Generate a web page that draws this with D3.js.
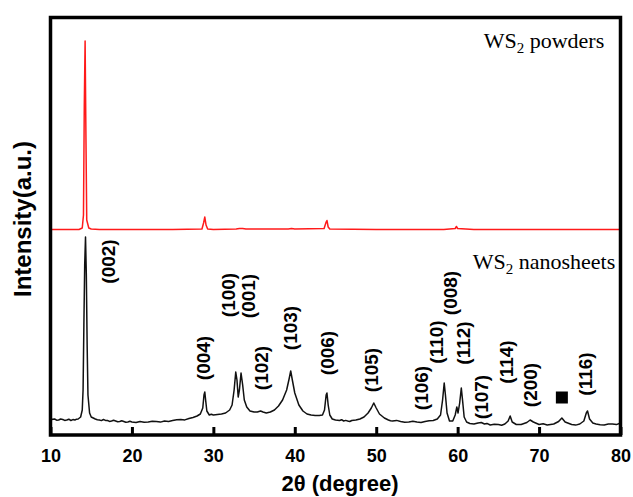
<!DOCTYPE html>
<html>
<head>
<meta charset="utf-8">
<script src="https://cdn.jsdelivr.net/npm/d3@7"></script>
<style>
  html, body { margin: 0; padding: 0; background: #fff; }
  svg { display: block; }
</style>
</head>
<body>
<svg id="chart" width="633" height="497"></svg>
<script>
// ---------------- DATA ----------------
// WS2 nanosheets pattern: [2θ (degree), intensity (a.u.)]
const nanoPattern = [
  [10.0,15],[10.25,15.8],[10.5,16],[10.75,14.8],[11.0,15],[11.25,16],[11.5,15.5],[11.75,14.6],[12.0,15],[12.25,15.8],
  [12.5,14.5],[12.75,15.4],[13.0,15],[13.2,15.8],[13.4,16],[13.7,18],[13.9,25],[14.0,45],[14.1,110],[14.2,170],
  [14.3,198],[14.4,160],[14.5,90],[14.6,40],[14.8,22],[15.0,18],[15.25,17],[15.5,16],[15.75,15.2],[16.0,15],
  [16.25,14.4],[16.5,15.5],[16.75,14.6],[17.0,14.5],[17.25,13.6],[17.5,14],[17.75,14.7],[18.0,14],[18.25,13.2],[18.5,13.5],
  [18.75,14.2],[19.0,13.5],[19.25,12.7],[19.5,13],[19.75,13.7],[20.0,13],[20.5,12.5],[21.0,13.5],[21.5,12.8],[22.0,13],
  [22.5,13.8],[23.0,13.5],[23.5,12.9],[24.0,14],[24.5,13.6],[25.0,14.5],[25.5,15.3],[26.0,15.5],[26.5,15.1],[27.0,16.5],
  [27.5,17.5],[28.0,19],[28.4,21],[28.7,27],[28.85,40],[28.95,43],[29.05,35],[29.2,24],[29.5,20],[29.75,20.8],
  [30.0,20],[30.5,20.5],[31.0,21],[31.5,22],[32.0,25],[32.3,30],[32.55,45],[32.75,63],[32.9,55],[33.05,38],
  [33.2,45],[33.4,62],[33.6,50],[33.8,35],[34.1,28],[34.5,24],[35.0,23],[35.4,23],[35.8,24],[36.1,23],
  [36.5,22],[37.0,23],[37.5,25],[38.0,29],[38.5,35],[39.0,45],[39.3,56],[39.5,64],[39.7,55],[40.0,42],
  [40.5,30],[41.0,24],[41.5,21],[42.0,20],[42.5,19.5],[43.0,19.5],[43.4,20],[43.65,25],[43.85,40],[43.95,42],
  [44.1,30],[44.3,20],[44.6,16],[45.0,15],[45.5,14.5],[45.75,15.3],[46.0,14],[46.25,14.6],[46.5,14],[46.75,13.5],
  [47.0,14.5],[47.5,15],[48.0,16],[48.5,18],[49.0,22],[49.4,27],[49.7,32],[50.0,27],[50.4,21],[51.0,17],
  [51.5,15],[51.75,14.2],[52.0,14],[52.5,14.6],[53.0,13.5],[53.5,12.8],[54.0,13],[54.5,13.7],[55.0,13],[55.5,12.6],
  [56.0,13.5],[56.5,14.2],[57.0,14.5],[57.5,16],[57.9,20],[58.15,35],[58.35,52],[58.5,40],[58.7,22],[59.0,14],
  [59.4,14],[59.7,20],[59.9,28],[60.05,22],[60.25,32],[60.45,47],[60.6,35],[60.8,18],[61.1,13],[61.5,11.5],
  [62.0,11],[62.5,12],[62.9,12.5],[63.3,11],[63.6,11.6],[64.0,10],[64.5,10.8],[65.0,10.5],[65.4,9.8],[65.8,11],
  [66.2,14],[66.45,19],[66.7,13],[67.2,10.5],[67.8,10.5],[68.5,12.5],[68.9,15],[69.3,13],[70.0,10.5],[70.5,11.2],
  [71.0,10],[71.4,10.6],[71.8,11],[72.4,13.5],[72.8,17],[73.2,13],[74.0,10.5],[74.5,9.9],[75.0,11],[75.5,14],
  [75.8,22],[75.95,24],[76.2,16],[76.6,12],[77.0,11],[77.5,10.3],[78.0,10],[78.5,11],[79.0,11],[79.5,10.4],[80.0,12]
];

// WS2 powders pattern (offset upward): [2θ (degree), intensity (a.u.)]
const powderPattern = [
  [10.0,205.5],[13.5,205.5],[13.9,207],[14.05,220],[14.15,330],[14.25,394],[14.35,300],[14.45,215],[14.7,207],[15.0,206],
  [16.0,205.5],[20.0,205.5],[25.0,205.5],[28.6,206],[28.8,212],[28.95,218],[29.1,210],[29.3,206],[30.0,205.5],[32.8,206],
  [33.2,206.5],[33.6,206.5],[34.0,206],[39.2,206],[39.6,206.5],[40.0,206],[43.6,206.5],[43.85,213],[43.95,214.5],[44.1,208],
  [44.3,206],[50.0,205.5],[58.3,205.5],[59.7,206.5],[59.85,208.5],[60.0,206.5],[62.0,205.5],[70.0,205.5],[76.0,205.5],[80.0,205.5]
];

const xTicks = [10,20,30,40,50,60,70,80];

// Miller-index annotations (text, 2θ of label centre, intensity of label centre)
const peakLabels = ["(002)","(004)","(100)","(001)","(102)","(103)","(006)","(105)","(106)","(110)","(008)","(112)","(107)","(114)","(200)","(116)"];
const peakLabelAngle = [17.1,28.77,31.84,34.3,35.95,39.42,44.0,49.46,55.6,57.44,59.08,60.71,62.97,66.04,68.91,75.66];
const peakLabelLevel = [173.5,77,140,139,67,107,82,65,47,93,142,92,38,73,50,61];

const markerAngle = [72.8];
const markerLevel = [37.5];

const seriesNames = ["WS", "2", " powders", "WS", "2", " nanosheets"];
const seriesLabelAngle = [78.0, 79.35];
const seriesLabelLevel = [387, 166];

// ---------------- CHART ----------------
const svg = d3.select("#chart");
const plotLeft = 50.5, plotRight = 620.5, plotTop = 17.5, plotBottom = 435;
const x = d3.scaleLinear().domain([10, 80]).range([plotLeft, plotRight]);
const y = d3.scaleLinear().domain([0, 417.5]).range([plotBottom, plotTop]);

const line = d3.line().x(d => x(d[0])).y(d => y(d[1]));

svg.append("path").datum(powderPattern)
  .attr("d", line).attr("fill", "none")
  .attr("stroke", "#ff1a1a").attr("stroke-width", 1.5).attr("stroke-linejoin", "round");

svg.append("path").datum(nanoPattern)
  .attr("d", line).attr("fill", "none")
  .attr("stroke", "#111").attr("stroke-width", 1.5).attr("stroke-linejoin", "round");

// frame
svg.append("rect")
  .attr("x", plotLeft).attr("y", plotTop)
  .attr("width", plotRight - plotLeft).attr("height", plotBottom - plotTop)
  .attr("fill", "none").attr("stroke", "#000").attr("stroke-width", 3.5);

// x axis (inward ticks)
const xAxis = d3.axisBottom(x).tickValues(xTicks).tickSizeInner(-8).tickSizeOuter(0).tickPadding(14)
  .tickFormat(d3.format("d"));
const gx = svg.append("g").attr("transform", `translate(0,${plotBottom})`).call(xAxis);
gx.select(".domain").remove();
gx.selectAll(".tick line").attr("stroke", "#000").attr("stroke-width", 3);
gx.selectAll(".tick text")
  .attr("font-family", "'Liberation Sans', Arial, sans-serif")
  .attr("font-weight", "bold").attr("font-size", 18).attr("fill", "#000");

// axis titles
svg.append("text")
  .attr("x", 340).attr("y", 491)
  .attr("text-anchor", "middle")
  .attr("font-family", "'Liberation Sans', Arial, sans-serif")
  .attr("font-weight", "bold").attr("font-size", 22).attr("fill", "#000")
  .text("2θ (degree)");

svg.append("text")
  .attr("transform", "translate(22.5,219) rotate(-90)")
  .attr("text-anchor", "middle").attr("dominant-baseline", "central")
  .attr("font-family", "'Liberation Sans', Arial, sans-serif")
  .attr("font-weight", "bold").attr("font-size", 24).attr("fill", "#000")
  .text("Intensity(a.u.)");

// peak labels
svg.append("g").selectAll("text").data(peakLabels).join("text")
  .attr("transform", (d, i) => `translate(${x(peakLabelAngle[i])},${y(peakLabelLevel[i])}) rotate(-90)`)
  .attr("text-anchor", "middle").attr("dominant-baseline", "central")
  .attr("font-family", "'Liberation Sans', Arial, sans-serif")
  .attr("font-weight", "bold").attr("font-size", 19).attr("fill", "#000")
  .text(d => d);

// square marker
svg.append("g").selectAll("rect").data(markerAngle).join("rect")
  .attr("x", (d) => x(d) - 6).attr("y", (d, i) => y(markerLevel[i]) - 6)
  .attr("width", 12).attr("height", 12).attr("fill", "#000");

// series labels
[0, 1].forEach(k => {
  const t = svg.append("text")
    .attr("x", x(seriesLabelAngle[k])).attr("y", y(seriesLabelLevel[k]))
    .attr("text-anchor", "end")
    .attr("font-family", "'Liberation Serif', 'Times New Roman', serif")
    .attr("font-size", 22).attr("fill", "#000");
  t.append("tspan").text(seriesNames[k * 3]);
  t.append("tspan").attr("font-size", 15).attr("dy", 5).text(seriesNames[k * 3 + 1]);
  t.append("tspan").attr("dy", -5).text(seriesNames[k * 3 + 2]);
});
</script>
</body>
</html>
